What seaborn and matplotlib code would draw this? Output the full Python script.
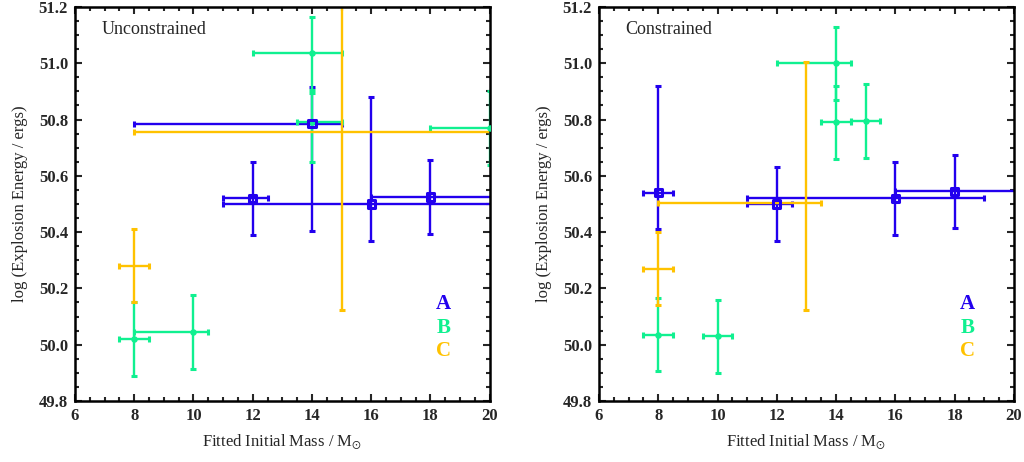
import numpy as np
import pandas as pd
import matplotlib
matplotlib.use('Agg')
import matplotlib.pyplot as plt
import seaborn as sns

# Unconstrained fits
unc_A_mass = [12, 14, 16, 18]
unc_A_energy = [50.52, 50.785, 50.50, 50.525]
unc_A_mass_lo = [1.0, 6.0, 5.0, 2.0]
unc_A_mass_hi = [0.5, 1.0, 5.0, 3.0]
unc_A_energy_lo = [0.13, 0.38, 0.13, 0.13]
unc_A_energy_hi = [0.13, 0.13, 0.38, 0.13]

unc_B_mass = [8, 10, 14, 14, 20]
unc_B_energy = [50.02, 50.045, 51.035, 50.79, 50.77]
unc_B_mass_lo = [0.5, 2.0, 2.0, 0.5, 2.0]
unc_B_mass_hi = [0.5, 0.5, 1.0, 1.0, 2.0]
unc_B_energy_lo = [0.13, 0.13, 0.14, 0.14, 0.13]
unc_B_energy_hi = [0.13, 0.13, 0.13, 0.115, 0.13]

unc_C_mass = [8, 15]
unc_C_energy = [50.28, 50.755]
unc_C_mass_lo = [0.5, 7.0]
unc_C_mass_hi = [0.5, 6.0]
unc_C_energy_lo = [0.13, 0.63]
unc_C_energy_hi = [0.13, 0.6]

# Constrained fits
con_A_mass = [8, 12, 16, 18]
con_A_energy = [50.54, 50.50, 50.52, 50.545]
con_A_mass_lo = [0.5, 1.0, 5.0, 2.0]
con_A_mass_hi = [0.5, 0.5, 3.0, 3.0]
con_A_energy_lo = [0.13, 0.13, 0.13, 0.13]
con_A_energy_hi = [0.38, 0.13, 0.13, 0.13]

con_B_mass = [8, 10, 14, 14, 15]
con_B_energy = [50.035, 50.03, 51.0, 50.79, 50.795]
con_B_mass_lo = [0.5, 0.5, 2.0, 0.5, 0.5]
con_B_mass_hi = [0.5, 0.5, 0.5, 0.5, 0.5]
con_B_energy_lo = [0.13, 0.13, 0.13, 0.13, 0.13]
con_B_energy_hi = [0.13, 0.13, 0.13, 0.13, 0.13]

con_C_mass = [8, 13]
con_C_energy = [50.27, 50.505]
con_C_mass_lo = [0.5, 5.0]
con_C_mass_hi = [0.5, 0.5]
con_C_energy_lo = [0.13, 0.38]
con_C_energy_hi = [0.13, 0.5]

groups = ['A', 'B', 'C']
colors = {'A': '#2200EE', 'B': '#10F090', 'C': '#FFC200'}


def make_frame(panel, group, mass, energy, mlo, mhi, elo, ehi):
    return pd.DataFrame({'panel': panel, 'group': group, 'mass': mass,
                         'energy': energy, 'mlo': mlo, 'mhi': mhi,
                         'elo': elo, 'ehi': ehi})


data = pd.concat([
    make_frame('Unconstrained', 'A', unc_A_mass, unc_A_energy, unc_A_mass_lo, unc_A_mass_hi, unc_A_energy_lo, unc_A_energy_hi),
    make_frame('Unconstrained', 'B', unc_B_mass, unc_B_energy, unc_B_mass_lo, unc_B_mass_hi, unc_B_energy_lo, unc_B_energy_hi),
    make_frame('Unconstrained', 'C', unc_C_mass, unc_C_energy, unc_C_mass_lo, unc_C_mass_hi, unc_C_energy_lo, unc_C_energy_hi),
    make_frame('Constrained', 'A', con_A_mass, con_A_energy, con_A_mass_lo, con_A_mass_hi, con_A_energy_lo, con_A_energy_hi),
    make_frame('Constrained', 'B', con_B_mass, con_B_energy, con_B_mass_lo, con_B_mass_hi, con_B_energy_lo, con_B_energy_hi),
    make_frame('Constrained', 'C', con_C_mass, con_C_energy, con_C_mass_lo, con_C_mass_hi, con_C_energy_lo, con_C_energy_hi),
], ignore_index=True)

sns.set_theme(style='ticks')
plt.rcParams['font.family'] = ['Liberation Serif', 'DejaVu Serif']
plt.rcParams['mathtext.fontset'] = 'stix'

fig = plt.figure(figsize=(10.24, 4.62), dpi=100)
ax_left = fig.add_axes([0.0732, 0.132, 0.405, 0.853])
ax_right = fig.add_axes([0.585, 0.132, 0.405, 0.853])

for ax, panel in [(ax_left, 'Unconstrained'), (ax_right, 'Constrained')]:
    sub = data[data['panel'] == panel]
    for g in groups:
        d = sub[sub['group'] == g]
        ax.errorbar(d['mass'], d['energy'],
                    xerr=[d['mlo'], d['mhi']], yerr=[d['elo'], d['ehi']],
                    fmt='none', ecolor=colors[g], elinewidth=1.7,
                    capsize=2.5, capthick=2.2)
    # markers: open squares for A, small filled dots for B
    sns.scatterplot(data=sub[sub['group'] == 'A'], x='mass', y='energy',
                    marker='s', s=28, facecolor='none', edgecolor=colors['A'],
                    linewidth=2.2, legend=False, ax=ax, zorder=5)
    sns.scatterplot(data=sub[sub['group'] == 'B'], x='mass', y='energy',
                    marker='o', s=22, color=colors['B'], edgecolor=colors['B'],
                    linewidth=0, legend=False, ax=ax, zorder=4)
    ax.set_xlim(6, 20)
    ax.set_ylim(49.8, 51.2)
    ax.set_xticks(np.arange(6, 21, 2))
    ax.set_xticks(np.arange(6, 20.01, 0.5), minor=True)
    ax.set_yticks(np.arange(49.8, 51.21, 0.2))
    ax.set_yticks(np.arange(49.8, 51.201, 0.05), minor=True)
    ax.set_yticklabels([f'{v:.1f}' for v in np.arange(49.8, 51.21, 0.2)])
    ax.set_xlabel(r'Fitted Initial Mass / M$_{\odot}$', fontsize=12, labelpad=6)
    ax.set_ylabel('log (Explosion Energy / ergs)', fontsize=12, labelpad=8)
    ax.tick_params(which='both', direction='in', top=True, right=True,
                   width=1.5, labelsize=12, pad=5)
    ax.tick_params(which='major', length=5)
    ax.tick_params(which='minor', length=3)
    for lab in ax.get_xticklabels() + ax.get_yticklabels():
        lab.set_fontweight('bold')
    for sp in ax.spines.values():
        sp.set_linewidth(1.8)
        sp.set_color('black')
    ax.text(0.064, 0.942, panel, transform=ax.transAxes, fontsize=13,
            ha='left', va='center')
    for g, ypos in zip(groups, [0.246, 0.185, 0.127]):
        ax.text(0.888, ypos, g, transform=ax.transAxes, color=colors[g],
                fontsize=15, fontweight='bold', ha='center', va='center')

fig.savefig('out.png', dpi=100)
